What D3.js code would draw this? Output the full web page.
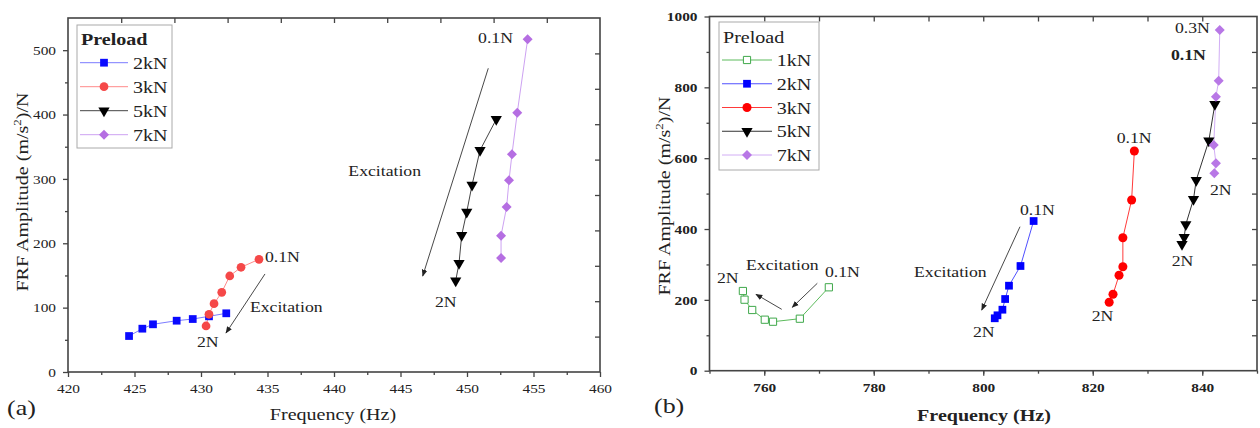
<!DOCTYPE html>
<html><head><meta charset="utf-8">
<script src="https://cdn.jsdelivr.net/npm/d3@7"></script>
<style>
body{margin:0;background:#fff}
svg{display:block}
text{font-family:"Liberation Serif","Times New Roman",serif;fill:#222}
</style>
</head><body>
<svg id="c" width="1260" height="428"></svg>
<script>
// ---------- Panel (a) data ----------
const aFreq2kN = [424.59, 425.59, 426.39, 428.17, 429.38, 430.60, 431.90];
const aAmp2kN  = [55.9, 67.3, 74.1, 79.7, 82.3, 86.5, 91.2];
const aFreq3kN = [430.38, 430.60, 430.98, 431.56, 432.16, 433.01, 434.36];
const aAmp3kN  = [71.5, 89.7, 106.1, 123.8, 149.2, 162.7, 175.1];
const aFreq5kN = [452.20, 450.98, 450.38, 449.98, 449.60, 449.40, 449.15];
const aAmp5kN  = [392.6, 344.5, 290.6, 248.6, 212.4, 168.9, 141.9];
const aFreq7kN = [454.56, 453.78, 453.38, 453.16, 452.98, 452.56, 452.56];
const aAmp7kN  = [517.0, 402.9, 338.3, 297.9, 256.4, 211.8, 177.1];
const aXTicks = [420, 425, 430, 435, 440, 445, 450, 455, 460];
const aYTicks = [0, 100, 200, 300, 400, 500];
const aLegend = ["2kN", "3kN", "5kN", "7kN"];

// ---------- Panel (b) data ----------
const bFreq1kN = [756.1, 756.4, 757.8, 760.1, 761.6, 766.5, 771.8];
const bAmp1kN  = [225.0, 200.5, 171.4, 144.0, 138.3, 146.8, 235.5];
const bFreq2kN = [809.2, 806.8, 804.7, 804.0, 803.5, 802.6, 802.1];
const bAmp2kN  = [422.6, 295.6, 240.0, 202.4, 172.2, 156.4, 148.0];
const bFreq3kN = [827.6, 827.1, 825.5, 825.5, 824.8, 823.7, 823.0];
const bAmp3kN  = [620.3, 482.0, 375.5, 293.6, 269.3, 215.7, 193.1];
const bFreq5kN = [842.3, 841.2, 838.9, 838.4, 837.0, 836.7, 836.3];
const bAmp5kN  = [752.0, 649.0, 538.0, 484.0, 413.0, 376.6, 357.0];
const bFreq7kN = [843.2, 843.0, 842.5, 842.1, 842.5, 842.2];
const bAmp7kN  = [962.0, 818.7, 773.6, 637.2, 585.5, 557.3];
const bXTicks = [760, 780, 800, 820, 840];
const bYTicks = [0, 200, 400, 600, 800, 1000];
const bLegend = ["1kN", "2kN", "3kN", "5kN", "7kN"];

// annotations: [freq, amp, text]
const aNotes = [[434.81,171.4,"0.1N"],[433.68,93.2,"Excitation"],[429.70,39.3,"2N"],
                [450.83,511.2,"0.1N"],[441.08,304.5,"Excitation"],[447.59,101.0,"2N"]];
const aArrows = [[434.81,152.3,431.88,60.6],[451.60,471.9,446.67,149.2]];
const bNotes = [[751.37,248.4,"2N"],[756.67,284.3,"Excitation"],[771.09,265.4,"0.1N"],
                [806.71,439.6,"0.1N"],[787.35,265.4,"Excitation"],[798.13,96.0,"2N"],
                [824.37,643.7,"0.1N"],[819.81,141.2,"2N"],[834.42,296.4,"2N"],
                [835.02,954.3,"0.3N"],[834.29,877.2,"0.1N",true],[841.42,496.0,"2N"]];
const bArrows = [[763.19,173.3,758.49,215.7],[769.69,246.8,765.12,179.0],[806.71,406.5,799.72,171.4]];

const SX = 1.18;
const svg = d3.select("#c");
svg.append("rect").attr("width",1260).attr("height",428).attr("fill","#fff");

const defs = svg.append("defs");
defs.append("marker").attr("id","ah").attr("viewBox","0 0 10 10").attr("refX",9).attr("refY",5)
  .attr("markerWidth",7).attr("markerHeight",7).attr("markerUnits","userSpaceOnUse").attr("orient","auto")
  .append("path").attr("d","M0,1 L10,5 L0,9 Z").attr("fill","#222");

function txt(g, x, y, s, o = {}) {
  return g.append("text").attr("transform", `translate(${x},${y}) scale(${SX},1)`)
    .attr("font-size", o.size || 15).attr("font-weight", o.weight || "normal")
    .attr("text-anchor", o.anchor || "start").text(s);
}

function symbolPath(kind, size) {
  if (kind === "square" || kind === "open") return d3.symbol(d3.symbolSquare, size)();
  if (kind === "circle") return d3.symbol(d3.symbolCircle, size)();
  if (kind === "tri") return d3.symbol(d3.symbolTriangle, size)();
  if (kind === "diamond") return d3.symbol(d3.symbolSquare, size)();
}
function symbolRot(kind) { return kind === "tri" ? 180 : (kind === "diamond" ? 45 : 0); }

function drawMarker(g, x, y, s) {
  g.append("path").attr("d", symbolPath(s.kind, s.size))
    .attr("transform", `translate(${x},${y}) rotate(${symbolRot(s.kind)})`)
    .attr("fill", s.kind === "open" ? "#fff" : s.color)
    .attr("stroke", s.kind === "open" ? s.color : "none").attr("stroke-width", 1);
}

function panel(cfg) {
  const g = svg.append("g");
  const x = d3.scaleLinear().domain(cfg.xDomain).range(cfg.xRange);
  const y = d3.scaleLinear().domain(cfg.yDomain).range(cfg.yRange);
  const [x0, x1] = cfg.xRange, [y0, y1] = cfg.yRange;
  const tw = cfg.tickBold ? "bold" : "normal";

  // minor ticks
  g.append("g").attr("transform", `translate(0,${y0})`)
    .call(d3.axisBottom(x).tickValues(cfg.xMinor).tickSize(3).tickFormat(""))
    .call(a => a.select(".domain").remove());
  g.append("g").attr("transform", `translate(${x0},0)`)
    .call(d3.axisLeft(y).tickValues(cfg.yMinor).tickSize(3).tickFormat(""))
    .call(a => a.select(".domain").remove());
  // major ticks with labels
  const bx = g.append("g").attr("transform", `translate(0,${y0})`)
    .call(d3.axisBottom(x).tickValues(cfg.xTicks).tickSize(5).tickPadding(cfg.xPad).tickFormat(d3.format("d")));
  bx.select(".domain").remove();
  bx.selectAll("text").attr("transform", `scale(${SX},1)`).attr("font-size", 13).attr("font-weight", tw)
    .attr("font-family", '"Liberation Serif",serif').attr("fill", "#333");
  const ly = g.append("g").attr("transform", `translate(${x0},0)`)
    .call(d3.axisLeft(y).tickValues(cfg.yTicks).tickSize(5).tickFormat(d3.format("d")));
  ly.select(".domain").remove();
  ly.selectAll("text").attr("transform", `scale(${SX},1)`).attr("x", -cfg.yGap / SX).attr("font-size", 13)
    .attr("font-weight", tw).attr("font-family", '"Liberation Serif",serif').attr("fill", "#333");
  // mirrored top/right inward ticks
  g.append("g").attr("transform", `translate(0,${y1})`)
    .call(d3.axisTop(x).tickValues(cfg.topTicks).tickSize(-5).tickFormat(""))
    .call(a => a.select(".domain").remove());
  g.append("g").attr("transform", `translate(${x1},0)`)
    .call(d3.axisRight(y).tickValues(cfg.rightTicks).tickSize(-5).tickFormat(""))
    .call(a => a.select(".domain").remove());
  g.selectAll(".tick line").attr("stroke", "#444").attr("stroke-width", 1.3);
  // frame
  g.append("rect").attr("x", x0).attr("y", y1).attr("width", x1 - x0).attr("height", y0 - y1)
    .attr("fill", "none").attr("stroke", "#444").attr("stroke-width", 1.6);

  // series
  const line = d3.line().x(d => x(d[0])).y(d => y(d[1]));
  cfg.series.forEach(s => {
    const pts = s.f.map((f, i) => [f, s.a[i]]);
    g.append("path").attr("d", line(pts)).attr("fill", "none").attr("stroke", s.line).attr("stroke-width", 1);
  });
  cfg.series.forEach(s => {
    s.f.forEach((f, i) => drawMarker(g, x(f), y(s.a[i]), s));
  });

  // annotations
  cfg.arrows.forEach(a => {
    g.append("line").attr("x1", x(a[0])).attr("y1", y(a[1])).attr("x2", x(a[2])).attr("y2", y(a[3]))
      .attr("stroke", "#333").attr("stroke-width", 0.9).attr("marker-end", "url(#ah)");
  });
  cfg.notes.forEach(n => txt(g, x(n[0]), y(n[1]), n[2], {size: 15, weight: n[3] ? "bold" : "normal"}));

  // legend
  const L = cfg.legend;
  g.append("rect").attr("x", L.x).attr("y", L.y).attr("width", L.w).attr("height", L.h)
    .attr("fill", "#fff").attr("stroke", "#aaa").attr("stroke-width", 1);
  txt(g, L.x + 4, L.y + L.titleDy, "Preload", {size: 17, weight: L.titleBold ? "bold" : "normal"});
  cfg.series.forEach((s, i) => {
    const yy = L.y + L.firstDy + i * L.step;
    g.append("line").attr("x1", L.x + 3).attr("x2", L.x + 3 + L.lineW).attr("y1", yy).attr("y2", yy)
      .attr("stroke", s.line).attr("stroke-width", 1);
    drawMarker(g, L.x + 3 + L.lineW / 2, yy, s);
    txt(g, L.x + L.textDx, yy + 6, cfg.legendLabels[i], {size: 17});
  });

  // axis titles
  txt(g, cfg.xTitle[0], cfg.xTitle[1], "Frequency (Hz)", {size: 17, anchor: "middle", weight: cfg.titleBold ? "bold" : "normal"});
  const yt = g.append("text")
    .attr("transform", `translate(${cfg.yTitle[0]},${cfg.yTitle[1]}) rotate(-90) scale(${SX},1)`)
    .attr("font-size", 17).attr("text-anchor", "middle");
  yt.append("tspan").text("FRF Amplitude (m/s");
  yt.append("tspan").attr("font-size", 11).attr("dy", -7).text("2");
  yt.append("tspan").attr("dy", 7).text(")/N");
  txt(g, cfg.tag[0], cfg.tag[1], cfg.tag[2], {size: 22});
}

panel({
  xDomain: [420, 460], xRange: [68, 600], yDomain: [0, 550], yRange: [372, 18],
  xTicks: aXTicks, xMinor: d3.range(422.5, 460, 5), yTicks: aYTicks, yMinor: d3.range(50, 550, 100),
  topTicks: d3.range(424, 460, 4), rightTicks: d3.range(55, 550, 55),
  xPad: 7, yGap: 12, tickBold: false, titleBold: false,
  series: [
    {f: aFreq2kN, a: aAmp2kN, kind: "square", size: 60, color: "#0a0aff", line: "#7c7cff"},
    {f: aFreq3kN, a: aAmp3kN, kind: "circle", size: 60, color: "#f54848", line: "#ff8a8a"},
    {f: aFreq5kN, a: aAmp5kN, kind: "tri", size: 55, color: "#000", line: "#444"},
    {f: aFreq7kN, a: aAmp7kN, kind: "diamond", size: 50, color: "#b56ee2", line: "#cda2f2"}
  ],
  legendLabels: aLegend,
  legend: {x: 77, y: 25, w: 95, h: 123, titleDy: 20, titleBold: true, firstDy: 37.7, step: 24, lineW: 48, textDx: 56},
  notes: aNotes, arrows: aArrows,
  xTitle: [333, 420], yTitle: [28, 192], tag: [7, 415, "(a)"]
});

panel({
  xDomain: [750, 850], xRange: [709.5, 1257], yDomain: [0, 1000], yRange: [370.7, 16.5],
  xTicks: bXTicks, xMinor: d3.range(750, 851, 10), yTicks: bYTicks, yMinor: d3.range(100, 1000, 200),
  topTicks: d3.range(760, 850, 10), rightTicks: d3.range(100, 1000, 100),
  xPad: 7, yGap: 12, tickBold: true, titleBold: true,
  series: [
    {f: bFreq1kN, a: bAmp1kN, kind: "open", size: 52, color: "#3fa84a", line: "#5cbb5c"},
    {f: bFreq2kN, a: bAmp2kN, kind: "square", size: 60, color: "#0000ff", line: "#5050ff"},
    {f: bFreq3kN, a: bAmp3kN, kind: "circle", size: 64, color: "#ff0000", line: "#ff3a3a"},
    {f: bFreq5kN, a: bAmp5kN, kind: "tri", size: 55, color: "#000", line: "#333"},
    {f: bFreq7kN, a: bAmp7kN, kind: "diamond", size: 50, color: "#b877e6", line: "#d2aef5"}
  ],
  legendLabels: bLegend,
  legend: {x: 719, y: 22, w: 100, h: 148, titleDy: 20.5, titleBold: false, firstDy: 38, step: 23.75, lineW: 50, textDx: 57.7},
  notes: bNotes, arrows: bArrows,
  xTitle: [984, 421], yTitle: [670, 196], tag: [654, 413, "(b)"]
});
</script>
</body></html>
